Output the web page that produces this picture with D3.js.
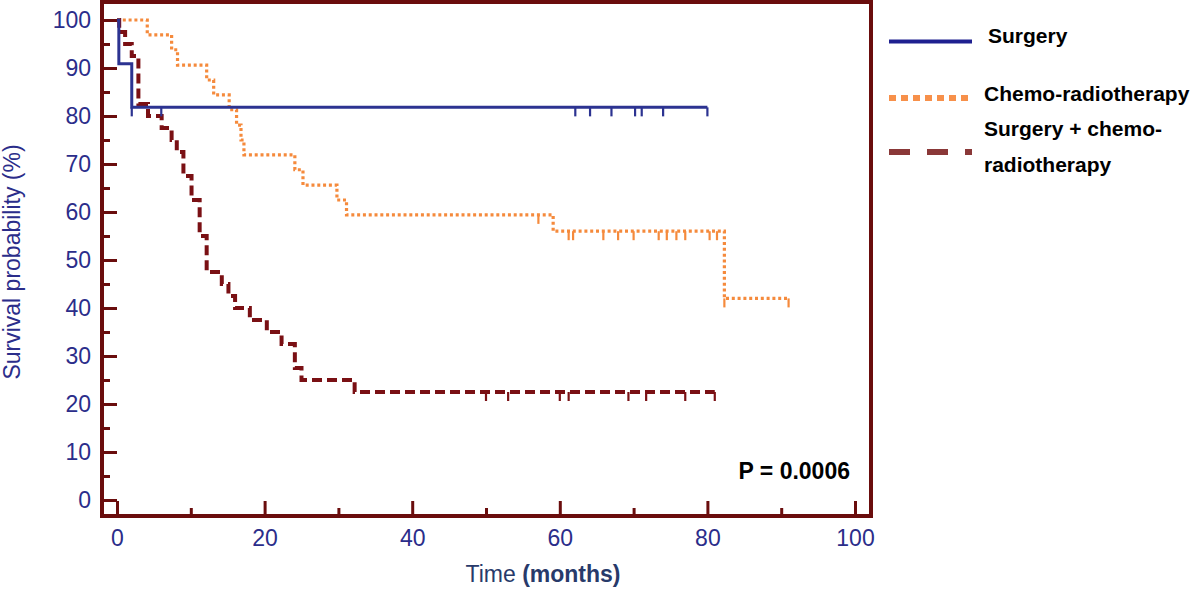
<!DOCTYPE html>
<html>
<head>
<meta charset="utf-8">
<script src="https://cdn.jsdelivr.net/npm/d3@7"></script>
<style>
  html, body { margin: 0; padding: 0; background: #fff; }
  svg { display: block; font-family: "Liberation Sans", Arial, Helvetica, sans-serif; }
</style>
</head>
<body>
<svg id="chart" width="1200" height="591"></svg>
<script>
// ---------- data ----------
const xTicksMajor = [0, 20, 40, 60, 80, 100];
const xTicksMinor = [10, 30, 50, 70, 90];
const yTicksMajor = [0, 10, 20, 30, 40, 50, 60, 70, 80, 90, 100];
const yTicksMinor = [5, 15, 25, 35, 45, 55, 65, 75, 85, 95];

const seriesNames = ["Surgery", "Chemo-radiotherapy", "Surgery + chemo-radiotherapy"];

// Surgery (event times, survival after each event, follow-up end, censored times)
const surgeryTimes = [0.25, 2.0];
const surgeryValues = [90.9, 81.8];
const surgeryEnd = 80;
const surgeryCensored = [2.0, 6.0, 62.1, 64.1, 67.0, 70.2, 71.1, 74.0, 80.0];

// Chemo-radiotherapy
const chemoTimes = [4.1, 7.4, 8.2, 12.15, 13.1, 15.2, 16.2, 16.8, 17.2, 24.1, 25.2, 29.8, 31.1, 59.1, 82.3];
const chemoValues = [96.9, 93.8, 90.6, 87.5, 84.4, 81.3, 78.1, 75.0, 71.9, 68.8, 65.6, 62.5, 59.4, 56.0, 42.0];
const chemoEnd = 91.0;
const chemoCensored = [57.1, 61.2, 61.8, 65.9, 67.9, 70.0, 73.4, 74.5, 75.8, 77.0, 80.3, 81.3, 82.3, 91.0];

// Surgery + chemo-radiotherapy
const comboTimes = [0.3, 1.1, 2.0, 2.9, 4.2, 6.05, 7.4, 8.1, 9.0, 10.1, 11.2, 12.15, 14.2, 15.1, 16.0, 18.0, 20.3, 22.3, 24.1, 25.0, 32.2];
const comboValues = [97.5, 95, 92.5, 82.5, 80, 77.5, 75, 72.5, 67.5, 62.5, 55, 47.5, 45, 42.5, 40, 37.5, 35, 32.5, 27.5, 25, 22.5];
const comboEnd = 81.0;
const comboCensored = [50.0, 53.0, 60.0, 61.2, 69.3, 71.7, 77.0, 81.0];

const pValueText = "P = 0.0006";

// ---------- layout ----------
const svg = d3.select("#chart");
const frame = { left: 102, top: 2, right: 871, bottom: 516 };
const x = d3.scaleLinear().domain([0, 100]).range([117, 855]);
const y = d3.scaleLinear().domain([0, 100]).range([500, 20]);

const frameColor = "#6a0d0d";
const axisTextColor = "#2b2d8a";
const colors = { surgery: "#2c3391", chemo: "#f58a3c", combo: "#7a1014" };

// ---------- axes ----------
const yAxisMajor = d3.axisLeft(y).tickValues(yTicksMajor).tickSizeInner(-15).tickSizeOuter(0).tickPadding(11);
const yAxisMinor = d3.axisLeft(y).tickValues(yTicksMinor).tickSizeInner(-8).tickSizeOuter(0).tickFormat("");
const xAxisMajor = d3.axisBottom(x).tickValues(xTicksMajor).tickSizeInner(-15).tickSizeOuter(0).tickPadding(14);
const xAxisMinor = d3.axisBottom(x).tickValues(xTicksMinor).tickSizeInner(-8).tickSizeOuter(0).tickFormat("");

function styleAxis(g) {
  g.select(".domain").remove();
  g.selectAll(".tick line").attr("stroke", frameColor).attr("stroke-width", 3);
  g.selectAll(".tick text").attr("fill", axisTextColor).attr("font-size", 23)
    .attr("font-family", "'Liberation Sans', Arial, sans-serif");
}

svg.append("g").attr("transform", `translate(${frame.left},0)`).call(yAxisMajor).call(styleAxis);
svg.append("g").attr("transform", `translate(${frame.left},0)`).call(yAxisMinor).call(styleAxis);
svg.append("g").attr("transform", `translate(0,${frame.bottom})`).call(xAxisMajor).call(styleAxis);
svg.append("g").attr("transform", `translate(0,${frame.bottom})`).call(xAxisMinor).call(styleAxis);

// frame
svg.append("rect")
  .attr("x", frame.left).attr("y", frame.top)
  .attr("width", frame.right - frame.left).attr("height", frame.bottom - frame.top)
  .attr("fill", "none").attr("stroke", frameColor).attr("stroke-width", 4);

// axis titles
svg.append("text")
  .attr("transform", "translate(20,262) rotate(-90)")
  .attr("text-anchor", "middle")
  .attr("fill", axisTextColor)
  .attr("font-size", 23)
  .text("Survival probability (%)");

const xt = svg.append("text")
  .attr("x", 543).attr("y", 582)
  .attr("text-anchor", "middle")
  .attr("fill", "#283a6a")
  .attr("font-size", 23);
xt.append("tspan").text("Time ");
xt.append("tspan").attr("font-weight", "bold").text("(months)");

// ---------- curves ----------
function stepPoints(times, values, end) {
  const pts = [[0, 100]];
  times.forEach((t, i) => pts.push([t, values[i]]));
  pts.push([end, values[values.length - 1]]);
  return pts;
}
function survAt(times, values, t) {
  const i = d3.bisectRight(times, t);
  return i === 0 ? 100 : values[i - 1];
}
const line = d3.line().x(d => x(d[0])).y(d => y(d[1])).curve(d3.curveStepAfter);

const series = [
  { times: surgeryTimes, values: surgeryValues, end: surgeryEnd, cens: surgeryCensored,
    color: colors.surgery, width: 3, dash: null },
  { times: chemoTimes, values: chemoValues, end: chemoEnd, cens: chemoCensored,
    color: colors.chemo, width: 3.2, dash: "3,2.8" },
  { times: comboTimes, values: comboValues, end: comboEnd, cens: comboCensored,
    color: colors.combo, width: 4, dash: "10,5" }
];

const curves = svg.append("g");
// draw order: combo, chemo, surgery on top
[series[2], series[1], series[0]].forEach(s => {
  curves.append("path")
    .attr("d", line(stepPoints(s.times, s.values, s.end)))
    .attr("fill", "none")
    .attr("stroke", s.color)
    .attr("stroke-width", s.width)
    .attr("stroke-dasharray", s.dash);
  curves.selectAll(null)
    .data(s.cens)
    .enter().append("line")
    .attr("x1", d => x(d)).attr("x2", d => x(d))
    .attr("y1", d => y(survAt(s.times, s.values, d)))
    .attr("y2", d => y(survAt(s.times, s.values, d)) + 9)
    .attr("stroke", s.color)
    .attr("stroke-width", 2.2);
});

// p value
svg.append("text")
  .attr("x", 850).attr("y", 479)
  .attr("text-anchor", "end")
  .attr("font-weight", "bold")
  .attr("font-size", 23)
  .attr("fill", "#000")
  .text(pValueText);

// ---------- legend ----------
const legend = svg.append("g").attr("font-weight", "bold").attr("font-size", 21).attr("fill", "#000");
const legendItems = [
  { color: "#1f2090", width: 4, dash: null, ly: 41.5, lines: [seriesNames[0]], tx: 988, ty: [43] },
  { color: "#f7904a", width: 6, dash: "7,5", ly: 98, lines: [seriesNames[1]], tx: 984, ty: [101] },
  { color: "#8a3838", width: 6, dash: "21,17", ly: 152, lines: ["Surgery + chemo-", "radiotherapy"], tx: 984, ty: [136, 172] }
];
legendItems.forEach(it => {
  legend.append("line")
    .attr("x1", 889).attr("x2", 972)
    .attr("y1", it.ly).attr("y2", it.ly)
    .attr("stroke", it.color).attr("stroke-width", it.width)
    .attr("stroke-dasharray", it.dash);
  it.lines.forEach((t, i) => {
    legend.append("text").attr("x", it.tx).attr("y", it.ty[i]).text(t);
  });
});
</script>
</body>
</html>
